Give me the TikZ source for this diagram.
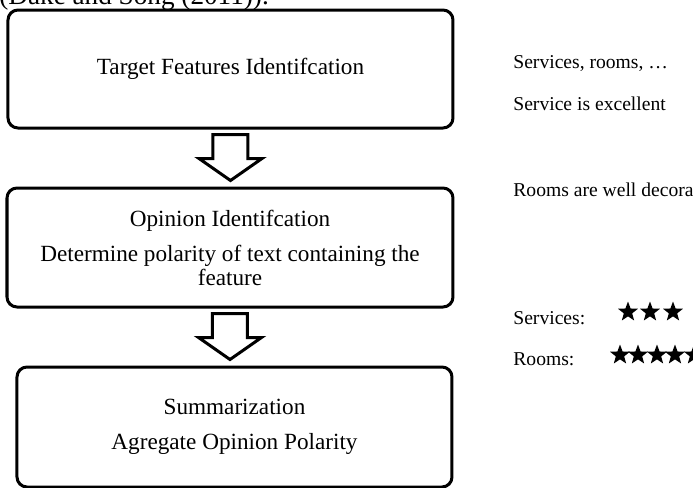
\documentclass[tikz,border=0pt]{standalone}
\usepackage{fontspec}
\setmainfont{Liberation Serif}
\usetikzlibrary{calc}
\usetikzlibrary{shapes.geometric}

\tikzset{
  stage/.style = {draw, line width = 1.5pt, rounded corners = 5pt, align = center, inner sep = 0pt, font = \fontsize{11.6}{12}\selectfont},
  hollow/.style = {draw, line width = 1.5pt, fill = white, line join = miter},
  note/.style = {anchor = base west, inner sep = 0pt, font = \fontsize{9.8}{11}\selectfont},
  rating/.style = {star, star points = 5, star point ratio = 2.4, fill = black, inner sep = 0pt, minimum size = 10.5pt},
}

% hollow block arrow from one stage down to the next
\newcommand{\hollowarrow}[2]{%
  \draw[hollow] ($(#1.south)+(-17.5,5)$) -- ($(#1.south)+(17.5,5)$) -- ($(#1.south)+(17.5,29)$)
    -- ($(#1.south)+(31.5,29)$) -- ($(#1.south |- #2.north)+(0,-6)$)
    -- ($(#1.south)+(-31.5,29)$) -- ($(#1.south)+(-17.5,29)$) -- cycle;}

\begin{document}
\begin{tikzpicture} [x = 0.5pt, y = -0.5pt]
\clip (0, 0) rectangle (693, 488);
\fill[white] (0, 0) rectangle (693, 488);

\node[anchor = base west, inner sep = 0pt, font = \fontsize{13.6}{14}\selectfont] (cite) at (-1, 4){(Dake and Song (2011)).};

\node[stage, minimum width = 222.5pt, minimum height = 59pt] (target) at (230.5, 69){Target Features Identifcation};
\node[stage, minimum width = 223pt, minimum height = 59.5pt] (opinion) at (230, 247.5){Opinion Identifcation\\[5.5pt]Determine polarity of text containing the\\feature};
\node[stage, minimum width = 217.5pt, minimum height = 60pt] (summary) at (234.5, 427){Summarization\\[5.5pt]Agregate Opinion Polarity};

\hollowarrow{target}{opinion}
\hollowarrow{opinion}{summary}

\node[note] (features) at (513, 68){Services, rooms, \dots};
\node[note] (service) at (513, 110){Service is excellent};
\node[note] (rooms) at (513, 196){Rooms are well decorated};
\node[note] (servlabel) at (513, 324){Services:};
\node[note] (roomlabel) at (513, 365){Rooms:};

\node[rating] (s1) at (628, 312){};
\node[rating] (s2) at (650, 312){};
\node[rating] (s3) at (673, 312){};
\node[rating] (r1) at (620, 355){};
\node[rating] (r2) at (638, 355){};
\node[rating] (r3) at (657, 355){};
\node[rating] (r4) at (675, 355){};
\node[rating] (r5) at (694, 355){};
\end{tikzpicture}
\end{document}
